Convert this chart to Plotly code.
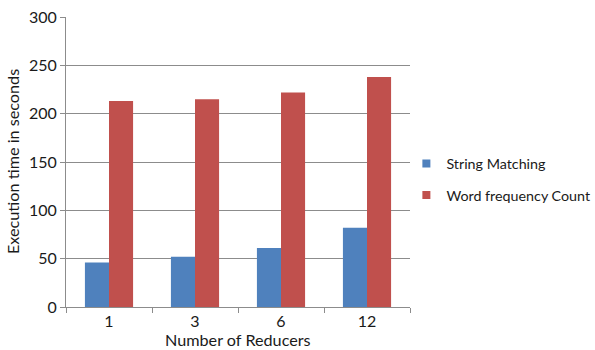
import plotly.graph_objects as go

reducers = ["1", "3", "6", "12"]
string_matching = [46, 52, 61, 82]
word_frequency = [213, 215, 222, 238]

series_names = ["String Matching", "Word frequency Count"]
series_colors = ["#4F81BD", "#C0504D"]

y_ticks = [0, 50, 100, 150, 200, 250, 300]

font_family = "Lato, 'Open Sans', sans-serif"
grid_color = "#8c8c8c"
text_color = "#1a1a1a"

fig = go.Figure()
for name, values, color in zip(series_names, [string_matching, word_frequency], series_colors):
    fig.add_trace(go.Bar(
        x=reducers, y=values, name=name,
        marker=dict(color=color, line=dict(width=0)),
        showlegend=False,
    ))

# legend entries with small square swatches
for i, (name, color) in enumerate(zip(series_names, series_colors)):
    fig.add_trace(go.Scatter(
        x=[None], y=[None], mode="markers", name=name,
        marker=dict(symbol="square", size=8, color=color),
        legendgroup=f"g{i}", showlegend=True, hoverinfo="skip",
    ))

# axis titles
fig.add_annotation(
    text="Number of Reducers", xref="paper", yref="paper",
    x=0.5, y=0, yshift=-32, xanchor="center", yanchor="middle",
    showarrow=False, font=dict(size=16.2, family=font_family, color=text_color),
)
fig.add_annotation(
    text="Execution time in seconds", xref="paper", yref="paper",
    x=0, y=0.5, xshift=-54, xanchor="center", yanchor="middle", textangle=-90,
    showarrow=False, font=dict(size=16.2, family=font_family, color=text_color),
)

fig.update_layout(
    width=595, height=350,
    margin=dict(l=66, r=185, t=17, b=43, autoexpand=False),
    paper_bgcolor="white", plot_bgcolor="white",
    font=dict(family=font_family, size=15, color=text_color),
    barmode="group", bargap=0.44, bargroupgap=0,
    showlegend=True,
    legend=dict(
        xref="container", yref="container",
        x=0.683, y=0.578, xanchor="left", yanchor="top",
        font=dict(size=14.3, family=font_family),
        tracegroupgap=10, itemwidth=30,
        bgcolor="rgba(0,0,0,0)",
    ),
    xaxis=dict(
        type="category", automargin=False,
        showline=True, linecolor=grid_color, linewidth=1,
        ticks="outside", tickson="boundaries", ticklen=5,
        tickcolor=grid_color, showgrid=False,
        tickfont=dict(size=16),
    ),
    yaxis=dict(
        range=[0, 300], tickvals=y_ticks, automargin=False,
        showline=True, linecolor=grid_color, linewidth=1,
        ticks="outside", ticklen=5, tickcolor=grid_color,
        showgrid=True, gridcolor=grid_color, gridwidth=1,
        zeroline=False,
        tickfont=dict(size=16),
    ),
)

fig.write_html("out.html")
